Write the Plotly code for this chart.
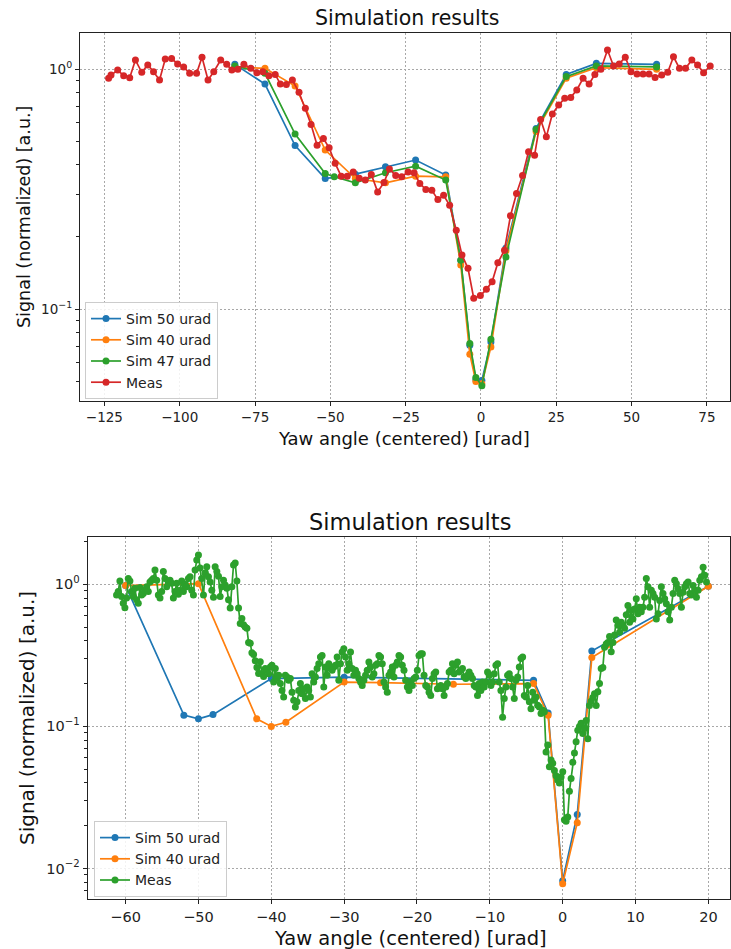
import plotly.graph_objects as go

# ---------------- top chart data ----------------
top_sim_x = [-81.7, -71.7, -61.7, -51.7, -41.7, -31.7, -21.7, -11.7, -6.7, -3.7, -1.7, 0.3, 3.3, 8.3, 18.3, 28.3, 38.3, 58.3]
top_sim50 = [1.046, 0.866, 0.48, 0.35, 0.365, 0.392, 0.418, 0.362, 0.16, 0.0708, 0.051, 0.0505, 0.073, 0.18, 0.566, 0.95, 1.056, 1.046]
top_sim40 = [1.02, 1.007, 0.85, 0.46, 0.35, 0.336, 0.358, 0.356, 0.153, 0.065, 0.05, 0.049, 0.0697, 0.175, 0.55, 0.915, 1.013, 0.997]
top_sim47_x = [-81.7, -71.7, -61.7, -51.7, -48.7, -41.7, -31.7, -21.7, -11.7, -6.7, -3.7, -1.7, 0.3, 3.3, 8.3, 18.3, 28.3, 38.3, 58.3]
top_sim47 = [1.03, 0.96, 0.536, 0.367, 0.356, 0.336, 0.37, 0.394, 0.345, 0.16, 0.072, 0.052, 0.048, 0.075, 0.165, 0.56, 0.93, 1.03, 1.02]

top_meas_x = [-123.6, -122.8, -120.6, -118.6, -116.6, -114.7, -112.6, -110.6, -108.7, -106.7,
              -104.8, -102.7, -100.7, -98.7, -96.7, -94.4, -92.6, -90.6, -88.7, -86.4,
              -84.4, -82.7, -80.7, -78.7, -76.4, -74.4, -72.4, -70.4, -68.3, -66.6,
              -64.6, -62.6, -60.4, -58.3, -56.4, -54.4, -52.3, -50.4, -48.4, -46.4,
              -44.4, -42.4, -40.4, -38.4, -36.4, -34.3, -32.2, -30.4, -28.3, -26.3,
              -24.2, -22.2, -20.3, -18.3, -16.3, -14.3, -12.4, -10.4, -8.2, -6.3,
              -4.3, -2.4, -0.2, 1.8, 3.7, 5.6, 7.8, 9.8, 11.8, 13.8,
              15.8, 17.8, 19.8, 21.7, 23.7, 25.8, 27.8, 29.8, 31.8, 33.9,
              35.9, 37.8, 39.8, 42.0, 44.0, 45.9, 47.9, 49.8, 51.8, 53.8,
              55.8, 57.8, 60.0, 62.0, 63.9, 65.9, 67.9, 70.0, 71.9, 73.9, 76.1]
top_meas_y = [0.915, 0.944, 0.99, 0.938, 0.92, 1.09, 0.969, 1.04, 0.975, 0.90,
              1.10, 1.107, 1.05, 1.02, 0.96, 0.96, 1.12, 0.90, 0.975, 1.09,
              1.046, 0.99, 0.997, 1.046, 1.007, 0.965, 0.975, 0.938, 0.95, 0.866,
              0.863, 0.90, 0.80, 0.686, 0.588, 0.482, 0.514, 0.47, 0.405, 0.358,
              0.358, 0.373, 0.351, 0.345, 0.364, 0.308, 0.337, 0.384, 0.36, 0.356,
              0.373, 0.37, 0.334, 0.315, 0.313, 0.286, 0.298, 0.271, 0.213, 0.168,
              0.148, 0.111, 0.114, 0.121, 0.13, 0.156, 0.176, 0.245, 0.303, 0.36,
              0.453, 0.438, 0.617, 0.522, 0.65, 0.708, 0.755, 0.762, 0.818, 0.915,
              0.866, 0.95, 0.997, 1.2, 1.03, 1.05, 1.12, 0.975, 0.953, 0.953,
              0.953, 0.923, 0.944, 0.969, 1.125, 1.007, 1.007, 1.09, 1.04, 0.965, 1.03]

top_xticks = [-125, -100, -75, -50, -25, 0, 25, 50, 75]

# ---------------- bottom chart data ----------------
bot_sim50_x = [-60, -52, -50, -48, -40, -30, -4, -2, 0, 2, 4, 20]
bot_sim50 = [0.98, 0.12, 0.113, 0.121, 0.217, 0.222, 0.211, 0.124, 0.0082, 0.024, 0.339, 0.97]
bot_sim40_x = [-60, -50, -42, -40, -38, -30, -25, -15, -4, -2, 0, 2, 4, 20]
bot_sim40 = [0.98, 1.01, 0.113, 0.10, 0.107, 0.205, 0.203, 0.198, 0.2, 0.12, 0.0078, 0.021, 0.305, 0.97]

# measurement scan: start position and step of the yaw scan
bot_scan_start = -61.24
bot_scan_step = 0.2294
bot_meas = [
    # -61.2 .. -41.1
    0.84, 0.89, 1.055, 0.82, 0.735, 0.685, 0.80, 1.10, 1.055, 0.89,
    0.82, 0.94, 0.78, 0.735, 0.95, 0.84, 0.86, 0.91, 0.96, 0.89,
    1.04, 1.07, 1.10, 1.26, 1.07, 0.84, 0.80, 0.89, 1.23, 1.10,
    0.96, 1.04, 1.07, 1.016, 0.80, 0.89, 1.016, 0.85, 0.91, 1.055,
    0.89, 1.0, 0.96, 1.10, 1.13, 0.91, 0.84, 1.26, 1.48, 1.61,
    1.30, 1.10, 0.84, 1.20, 1.33, 1.13, 1.04, 0.91, 0.81, 1.33,
    1.23, 1.14, 0.82, 0.96, 1.07, 0.99, 0.94, 0.78, 0.68, 0.96,
    1.37, 1.41, 1.055, 0.68, 0.53, 0.575, 0.52, 0.50, 0.49, 0.39,
    0.385, 0.33, 0.32, 0.29, 0.26, 0.236, 0.285, 0.236, 0.224,
    # -40.8 .. -2.7
    0.255, 0.248, 0.235, 0.262, 0.269, 0.205, 0.255, 0.217, 0.229, 0.20,
    0.179, 0.161, 0.229, 0.223, 0.211, 0.217, 0.174, 0.153, 0.137, 0.149,
    0.179, 0.20, 0.17, 0.184, 0.157, 0.189, 0.179, 0.161, 0.235, 0.205,
    0.223, 0.255, 0.276, 0.308, 0.316, 0.189, 0.262, 0.229, 0.276, 0.255,
    0.248, 0.262, 0.269, 0.308, 0.211, 0.276, 0.334, 0.352, 0.308, 0.248,
    0.276, 0.334, 0.255, 0.229, 0.248, 0.235, 0.217, 0.205, 0.194, 0.211,
    0.229, 0.248, 0.284, 0.262, 0.223, 0.235, 0.269, 0.276, 0.316, 0.308,
    0.276, 0.205, 0.189, 0.174, 0.229, 0.241, 0.262, 0.223, 0.269, 0.284,
    0.316, 0.308, 0.269, 0.248, 0.211, 0.189, 0.179, 0.205, 0.194, 0.217,
    0.223, 0.248, 0.316, 0.325, 0.325, 0.229, 0.194, 0.189, 0.174, 0.165,
    0.217, 0.235, 0.241, 0.184, 0.189, 0.194, 0.184, 0.165, 0.189, 0.20,
    0.241, 0.248, 0.276, 0.235, 0.269, 0.284, 0.241, 0.248, 0.255, 0.223,
    0.217, 0.229, 0.241, 0.229, 0.217, 0.194, 0.189, 0.165, 0.20, 0.179,
    0.205, 0.189, 0.205, 0.241, 0.229, 0.194, 0.205, 0.235, 0.269, 0.276,
    0.205, 0.179, 0.116, 0.157, 0.189, 0.229, 0.235, 0.217, 0.189, 0.157,
    0.211, 0.223, 0.262, 0.30, 0.308, 0.165, 0.161, 0.194, 0.149, 0.133,
    0.174, 0.153, 0.161, 0.141, 0.137, 0.123, 0.13, 0.127,
    # -2.5 .. 19.7
    0.066, 0.074, 0.052, 0.058, 0.055, 0.049, 0.045, 0.042, 0.040, 0.044,
    0.048, 0.022, 0.0215, 0.023, 0.035, 0.043, 0.056, 0.065, 0.078, 0.094,
    0.10, 0.105, 0.089, 0.097, 0.11, 0.082, 0.14, 0.15, 0.16, 0.17,
    0.14, 0.175, 0.20, 0.255, 0.26, 0.36, 0.38, 0.39, 0.43, 0.335,
    0.39, 0.44, 0.56, 0.515, 0.46, 0.54, 0.515, 0.49, 0.61, 0.71,
    0.54, 0.66, 0.57, 0.67, 0.79, 0.62, 0.69, 0.64, 0.69, 0.81,
    1.10, 0.96, 0.69, 0.91, 0.86, 0.81, 0.57, 0.62, 0.77, 0.96,
    0.86, 0.79, 0.73, 0.64, 0.56, 0.69, 0.86, 1.07, 1.01, 0.93,
    0.86, 0.69, 0.88, 0.96, 1.01, 1.04, 0.86, 0.84, 0.98, 0.91,
    0.81, 0.91, 1.07, 1.13, 1.32, 1.16, 1.04,
]
bot_meas_x = [round(bot_scan_start + i * bot_scan_step, 3) for i in range(len(bot_meas))]

bot_xticks = [-60, -50, -40, -30, -20, -10, 0, 10, 20]

# ---------------- styling ----------------
C_BLUE, C_ORANGE, C_GREEN, C_RED = "#1f77b4", "#ff7f0e", "#2ca02c", "#d62728"
FONT = "DejaVu Sans"
W, H = 731, 949

def px_x(p):
    return p / W

def px_y(p):
    return 1 - p / H

fig = go.Figure()

def add(x, y, name, color, xa, ya, legend, msize=7):
    fig.add_trace(go.Scatter(
        x=x, y=y, name=name, mode="lines+markers",
        line=dict(color=color, width=1.7),
        marker=dict(color=color, size=msize),
        xaxis=xa, yaxis=ya, legend=legend))

add(top_sim_x, top_sim50, "Sim 50 urad", C_BLUE, "x", "y", "legend")
add(top_sim_x, top_sim40, "Sim 40 urad", C_ORANGE, "x", "y", "legend")
add(top_sim47_x, top_sim47, "Sim 47 urad", C_GREEN, "x", "y", "legend")
add(top_meas_x, top_meas_y, "Meas", C_RED, "x", "y", "legend")

add(bot_sim50_x, bot_sim50, "Sim 50 urad", C_BLUE, "x2", "y2", "legend2")
add(bot_sim40_x, bot_sim40, "Sim 40 urad", C_ORANGE, "x2", "y2", "legend2")
add(bot_meas_x, bot_meas, "Meas", C_GREEN, "x2", "y2", "legend2")

axis_common = dict(
    showline=True, mirror=True, linecolor="#222", linewidth=1.2,
    ticks="outside", ticklen=4, tickwidth=1, tickcolor="#222",
    showgrid=True, gridcolor="#a8a8a8", gridwidth=0.8, griddash="2px,2px",
    zeroline=False, automargin=False,
)

minor_top = [0.05, 0.06, 0.07, 0.08, 0.09, 0.2, 0.3, 0.4, 0.5, 0.6, 0.7, 0.8, 0.9]
minor_bot = [0.007, 0.008, 0.009, 0.02, 0.03, 0.04, 0.05, 0.06, 0.07, 0.08, 0.09,
             0.2, 0.3, 0.4, 0.5, 0.6, 0.7, 0.8, 0.9, 2]

fig.update_layout(
    width=W, height=H,
    margin=dict(l=0, r=0, t=0, b=0),
    paper_bgcolor="white", plot_bgcolor="white",
    font=dict(family=FONT, color="#222"),
    xaxis=dict(domain=[px_x(80), px_x(729.5)], anchor="y", range=[-133.1, 82.5],
               tickvals=top_xticks, tickfont=dict(size=13.5), **axis_common),
    yaxis=dict(domain=[px_y(401), px_y(33)], anchor="x", type="log", range=[-1.382, 0.15],
               tickvals=[0.1, 1], ticktext=["10<sup>−1</sup>", "10<sup>0</sup>"],
               tickfont=dict(size=13.5),
               minor=dict(ticks="outside", ticklen=2.5, tickwidth=0.8, tickcolor="#222",
                          tickvals=minor_top, showgrid=False),
               **axis_common),
    xaxis2=dict(domain=[px_x(87.7), px_x(729.5)], anchor="y2", range=[-65.2, 22.9],
                tickvals=bot_xticks, tickfont=dict(size=14.5), **axis_common),
    yaxis2=dict(domain=[px_y(899), px_y(537)], anchor="x2", type="log", range=[-2.215, 0.333],
                tickvals=[0.01, 0.1, 1],
                ticktext=["10<sup>−2</sup>", "10<sup>−1</sup>", "10<sup>0</sup>"],
                tickfont=dict(size=14.5),
                minor=dict(ticks="outside", ticklen=2.5, tickwidth=0.8, tickcolor="#222",
                           tickvals=minor_bot, showgrid=False),
                **axis_common),
    legend=dict(x=px_x(85), y=px_y(302), xanchor="left", yanchor="top",
                bgcolor="rgba(255,255,255,0.85)", bordercolor="#cccccc", borderwidth=1,
                font=dict(size=14, family=FONT), tracegroupgap=0, itemwidth=30),
    legend2=dict(x=px_x(94), y=px_y(821), xanchor="left", yanchor="top",
                 bgcolor="rgba(255,255,255,0.85)", bordercolor="#cccccc", borderwidth=1,
                 font=dict(size=14, family=FONT), tracegroupgap=0, itemwidth=30),
    showlegend=True,
)

def ann(text, x, y, size, angle=0):
    fig.add_annotation(text=text, x=px_x(x), y=px_y(y), xref="paper", yref="paper",
                       xanchor="center", yanchor="middle", showarrow=False,
                       textangle=angle, font=dict(size=size, family=FONT, color="#111"))

ann("Simulation results", 407, 18, 20.5)
ann("Yaw angle (centered) [urad]", 404, 438, 18)
ann("Signal (normalized) [a.u.]", 24, 217, 17.5, -90)
ann("Simulation results", 410, 522, 22.5)
ann("Yaw angle (centered) [urad]", 410, 938.5, 19.5)
ann("Signal (normalized) [a.u.]", 27, 718, 20, -90)

fig.write_html("out.html")
